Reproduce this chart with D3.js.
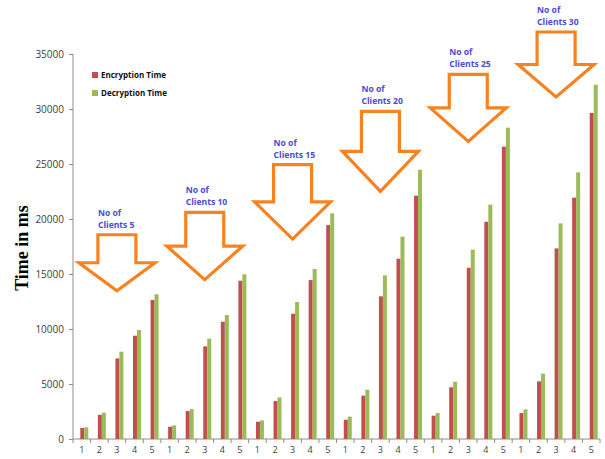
<!DOCTYPE html>
<meta charset="utf-8">
<style>
body { margin: 0; background: #fff; }
.note { font-family: "Open Sans", sans-serif; font-weight: bold; font-size: 8.6px; fill: #4b4bd6; }
.leg { font-family: "Open Sans", sans-serif; font-weight: bold; font-size: 8px; fill: #111; }
</style>
<svg width="605" height="459"></svg>
<script src="https://cdn.jsdelivr.net/npm/d3@7/dist/d3.min.js"></script>
<script>

// data
var clients = [5, 10, 15, 20, 25, 30]
var runs = ["1", "2", "3", "4", "5"]

var encryption = [
  1000, 2200, 7330, 9390, 12640,
  1120, 2540, 8420, 10660, 14390,
  1570, 3450, 11390, 14450, 19450,
  1750, 3940, 12970, 16390, 22120,
  2120, 4700, 15570, 19750, 26570,
  2360, 5240, 17330, 21940, 29640
]
var decryption = [
  1060, 2390, 7940, 9900, 13150,
  1240, 2720, 9120, 11270, 14970,
  1690, 3780, 12450, 15450, 20510,
  2030, 4480, 14880, 18390, 24480,
  2360, 5210, 17210, 21300, 28300,
  2690, 5940, 19600, 24240, 32210
]
// arrow annotations (in ms): top of shaft and arrow tip
var arrowTop = [18570, 20600, 24940, 29780, 33150, 37000]
var arrowTip = [13480, 14480, 18180, 22510, 27050, 31090]

var yTicks = [0, 5000, 10000, 15000, 20000, 25000, 30000, 35000]

var svg = d3.select("svg")
var margin = {left: 73, right: 5, top: 54, bottom: 20}
var width = 605, height = 459

var cats = d3.range(encryption.length)

var x = d3.scaleBand()
    .domain(cats)
    .range([margin.left, width - margin.right])

var y = d3.scaleLinear()
    .domain([0, 35000])
    .range([height - margin.bottom, margin.top])

// y axis
var yAxis = svg.append("g")
    .attr("transform", "translate(" + margin.left + ",0)")
    .call(d3.axisLeft(y).tickValues(yTicks).tickSize(4).tickPadding(5).tickFormat(d3.format("d")))
yAxis.selectAll("line, path").attr("stroke", "#8c8c8c")
yAxis.select(".domain").attr("d", "M0," + y(35000) + "V" + y(0))
yAxis.selectAll("text")
    .style("font-family", "'Open Sans', sans-serif")
    .style("font-size", "10px")
    .style("fill", "#404040")

// x axis (ticks between categories)
var xAxis = svg.append("g")
    .attr("transform", "translate(0," + y(0) + ")")
xAxis.append("line")
    .attr("x1", margin.left).attr("x2", width - margin.right)
    .attr("stroke", "#8c8c8c")
xAxis.selectAll(".xt")
    .data(cats.concat([cats.length]))
    .enter().append("line")
      .attr("x1", function(d) { return margin.left + d * x.step() })
      .attr("x2", function(d) { return margin.left + d * x.step() })
      .attr("y2", 4)
      .attr("stroke", "#8c8c8c")
xAxis.selectAll(".xl")
    .data(cats)
    .enter().append("text")
      .attr("x", function(d) { return x(d) + x.bandwidth() / 2 })
      .attr("y", 14)
      .attr("text-anchor", "middle")
      .style("font-family", "'Open Sans', sans-serif")
      .style("font-size", "9px")
      .style("fill", "#404040")
      .text(function(d) { return runs[d % 5] })

// bars
var bw = 4
svg.append("g").selectAll("rect")
    .data(cats)
    .enter().append("rect")
      .attr("x", function(d) { return x(d) + x.bandwidth() / 2 - 1.5 })
      .attr("y", function(d) { return y(encryption[d]) })
      .attr("width", bw)
      .attr("height", function(d) { return y(0) - y(encryption[d]) })
      .attr("fill", "#c0504d")

svg.append("g").selectAll("rect")
    .data(cats)
    .enter().append("rect")
      .attr("x", function(d) { return x(d) + x.bandwidth() / 2 + 2.5 })
      .attr("y", function(d) { return y(decryption[d]) })
      .attr("width", bw)
      .attr("height", function(d) { return y(0) - y(decryption[d]) })
      .attr("fill", "#9bbb59")

// arrows + notes
var headHalf = 38, shaftHalf = 19
clients.forEach(function(c, i) {
  var cx = (x(i * 5) + x(i * 5 + 4) + x.bandwidth()) / 2
  var top = y(arrowTop[i]), tip = y(arrowTip[i])
  var sh = (top + tip) / 2
  var path = d3.path()
  path.moveTo(cx - shaftHalf, top)
  path.lineTo(cx + shaftHalf, top)
  path.lineTo(cx + shaftHalf, sh)
  path.lineTo(cx + headHalf, sh)
  path.lineTo(cx, tip)
  path.lineTo(cx - headHalf, sh)
  path.lineTo(cx - shaftHalf, sh)
  path.closePath()
  svg.append("path")
      .attr("d", path.toString())
      .attr("fill", "none")
      .attr("stroke", "#f7821f")
      .attr("stroke-width", 3.2)
      .attr("stroke-linejoin", "miter")

  svg.append("text")
      .attr("class", "note")
      .attr("x", cx - shaftHalf)
      .attr("y", top - 19)
      .text("No of")
  svg.append("text")
      .attr("class", "note")
      .attr("x", cx - shaftHalf)
      .attr("y", top - 7)
      .text("Clients " + c)
})

// legend
var legend = [["Encryption Time", "#c0504d"], ["Decryption Time", "#9bbb59"]]
legend.forEach(function(l, i) {
  svg.append("rect")
      .attr("x", 92).attr("y", 72 + i * 18)
      .attr("width", 6).attr("height", 6)
      .attr("fill", l[1])
  svg.append("text")
      .attr("class", "leg")
      .attr("x", 101).attr("y", 78 + i * 18)
      .text(l[0])
})

// y label
svg.append("text")
    .attr("transform", "translate(28,248) rotate(-90)")
    .attr("text-anchor", "middle")
    .style("font-family", "'Liberation Serif', serif")
    .style("font-weight", "bold")
    .style("font-size", "18px")
    .text("Time in ms")

</script>
